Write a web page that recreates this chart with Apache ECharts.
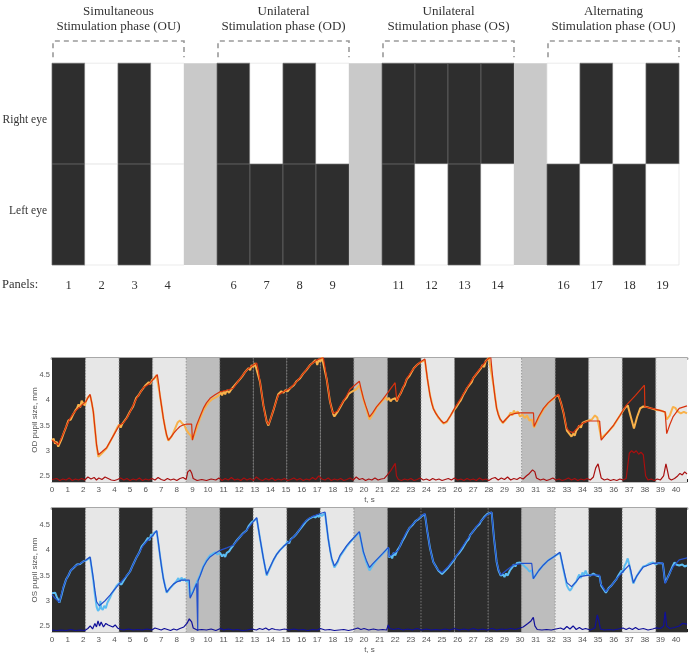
<!DOCTYPE html>
<html><head><meta charset="utf-8">
<script src="https://cdn.jsdelivr.net/npm/echarts@6/dist/echarts.min.js"></script>
<style>html,body{margin:0;padding:0;background:#fff}#c{width:697px;height:661px}</style>
</head><body><div id="c"></div>
<script>
// ---------- DATA ----------
const panelLabels = ['1','2','3','4','','6','7','8','9','','11','12','13','14','','16','17','18','19'];
const rightEye = ['D','W','D','W','G','D','W','D','W','G','D','D','D','D','G','W','D','W','D'];
const leftEye  = ['D','W','D','W','G','D','D','D','D','G','D','W','D','W','G','D','W','D','W'];
const phaseTitles = ['Simultaneous\nStimulation phase (OU)','Unilateral\nStimulation phase (OD)','Unilateral\nStimulation phase (OS)','Alternating\nStimulation phase (OU)'];
const phaseStart = [0,5,10,15];
const phaseEnd = [3,8,13,18];
const rowNames = ['Left eye','Right eye'];

const panelDur = 2.15;
const odBands = ['D','L','D','L','G','D','D','D','D','G','D','L','D','L','G','D','L','D','L'];
const osBands = ['D','L','D','L','G','D','L','D','L','G','D','D','D','D','G','L','D','L','D'];
const yTicks = [2.5,3,3.5,4,4.5];

const odModel = [[0,3.21],[0.2,3.17],[0.4,3.12],[0.7,3.32],[0.95,3.51],[1.15,3.64],[1.37,3.74],[1.6,3.82],[1.8,3.87],[2.0,3.93],[2.18,3.98],[2.3,4.05],[2.44,4.12],[2.55,3.95],[2.65,3.77],[2.75,3.45],[2.86,3.11],[2.97,2.92],[3.2,2.98],[3.5,3.06],[3.9,3.28],[4.32,3.51],[4.57,3.55],[4.8,3.65],[5.0,3.77],[5.2,3.9],[5.43,4.04],[5.65,4.15],[5.85,4.25],[6.05,4.29],[6.28,4.34],[6.5,4.42],[6.75,4.51],[6.85,4.3],[6.92,4.1],[7.03,3.87],[7.14,3.64],[7.25,3.45],[7.35,3.31],[7.46,3.21],[7.6,3.26],[7.78,3.34],[8.0,3.42],[8.2,3.48],[8.4,3.51],[8.63,3.53],[8.95,3.53],[9.0,3.21],[9.1,3.33],[9.27,3.51],[9.5,3.69],[9.7,3.84],[9.9,3.95],[10.13,4.04],[10.45,4.11],[10.77,4.17],[11.2,4.2],[11.62,4.24],[12.05,4.43],[12.48,4.6],[12.8,4.68],[13.12,4.74],[13.22,4.6],[13.33,4.37],[13.45,4.12],[13.55,3.9],[13.66,3.7],[13.76,3.58],[13.87,3.52],[14.0,3.62],[14.19,3.81],[14.35,3.96],[14.5,4.1],[14.83,4.17],[15.26,4.24],[15.68,4.37],[16.1,4.53],[16.54,4.7],[16.97,4.8],[17.39,4.85],[17.5,4.65],[17.6,4.43],[17.72,4.2],[17.82,3.97],[17.93,3.82],[18.03,3.74],[18.1,3.71],[18.3,3.79],[18.5,3.9],[18.9,4.1],[19.1,4.22],[19.4,4.3],[19.7,4.38],[19.83,4.2],[19.96,4.04],[20.1,3.9],[20.2,3.81],[20.35,3.67],[20.55,3.75],[20.8,3.87],[21.2,4.02],[21.56,4.17],[21.8,4.27],[21.99,4.35],[22.05,4.15],[22.1,4.0],[22.2,4.04],[22.45,4.22],[22.74,4.43],[23.05,4.58],[23.38,4.7],[23.65,4.77],[23.9,4.82],[23.98,4.62],[24.06,4.43],[24.15,4.25],[24.23,4.1],[24.33,3.95],[24.44,3.84],[24.6,3.74],[24.76,3.67],[24.93,3.6],[25.1,3.55],[25.3,3.58],[25.55,3.7],[25.8,3.84],[26.2,4.04],[26.58,4.24],[26.9,4.4],[27.2,4.53],[27.55,4.68],[27.86,4.8],[28.12,4.86],[28.2,4.6],[28.3,4.3],[28.4,4.05],[28.5,3.84],[28.6,3.72],[28.72,3.63],[28.9,3.56],[29.1,3.63],[29.36,3.71],[29.7,3.74],[30.0,3.75],[30.86,3.75],[30.9,3.48],[31.2,3.68],[31.5,3.84],[31.8,3.95],[32.14,4.04],[32.46,4.12],[32.62,3.95],[32.78,3.77],[32.9,3.58],[33.0,3.44],[33.2,3.38],[33.4,3.36],[33.6,3.43],[33.85,3.51],[34.1,3.56],[34.38,3.59],[35.1,3.59],[35.2,3.21],[35.6,3.36],[36.0,3.51],[36.4,3.7],[36.8,3.9],[37.4,4.1],[37.97,4.3],[38.0,3.87],[38.6,3.83],[39.3,3.77],[39.4,3.34],[39.6,3.52],[39.8,3.67],[40.2,3.84],[40.7,3.89]];

const odMeasured = [[0,3.2],[0.1,3.24],[0.2,3.14],[0.3,3.18],[0.4,3.08],[0.5,3.15],[0.6,3.22],[0.75,3.35],[0.9,3.47],[1.05,3.6],[1.2,3.62],[1.35,3.72],[1.5,3.8],[1.6,3.84],[1.7,3.92],[1.8,3.86],[1.9,3.99],[2.0,3.94],[2.1,3.9],[2.2,4.0],[2.3,4.06],[2.44,4.1],[2.55,3.95],[2.65,3.77],[2.75,3.45],[2.86,3.1],[2.97,2.88],[3.2,2.95],[3.5,3.05],[3.9,3.28],[4.2,3.47],[4.3,3.52],[4.4,3.46],[4.5,3.53],[4.6,3.54],[4.8,3.66],[5.0,3.78],[5.2,3.88],[5.4,4.05],[5.55,4.1],[5.7,4.18],[5.85,4.24],[6.0,4.3],[6.1,4.27],[6.2,4.36],[6.3,4.32],[6.4,4.4],[6.55,4.43],[6.7,4.5],[6.75,4.5],[6.92,4.1],[7.14,3.64],[7.35,3.3],[7.46,3.2],[7.7,3.3],[7.9,3.45],[8.05,3.56],[8.2,3.6],[8.35,3.54],[8.5,3.5],[8.6,3.42],[8.75,3.35],[8.9,3.3],[9.0,3.22],[9.1,3.3],[9.3,3.48],[9.5,3.65],[9.7,3.8],[9.9,3.9],[10.1,3.98],[10.3,4.03],[10.5,4.06],[10.7,4.1],[10.8,4.16],[10.9,4.1],[11.0,4.18],[11.1,4.12],[11.2,4.2],[11.35,4.15],[11.5,4.22],[11.62,4.25],[11.8,4.33],[12.05,4.42],[12.2,4.48],[12.35,4.55],[12.48,4.6],[12.6,4.64],[12.7,4.6],[12.8,4.7],[12.9,4.66],[13.0,4.74],[13.12,4.75],[13.33,4.37],[13.55,3.9],[13.76,3.58],[13.87,3.5],[14.19,3.8],[14.4,4.02],[14.5,4.12],[14.6,4.1],[14.7,4.18],[14.83,4.15],[14.95,4.2],[15.1,4.18],[15.26,4.24],[15.5,4.3],[15.68,4.38],[15.9,4.44],[16.1,4.53],[16.3,4.6],[16.54,4.7],[16.7,4.74],[16.8,4.72],[16.9,4.8],[17.0,4.7],[17.1,4.82],[17.2,4.76],[17.3,4.86],[17.39,4.84],[17.6,4.43],[17.82,3.97],[18.03,3.72],[18.1,3.68],[18.3,3.77],[18.5,3.88],[18.7,3.99],[18.9,4.06],[19.0,4.12],[19.1,4.1],[19.2,4.17],[19.3,4.14],[19.5,4.22],[19.7,4.3],[19.83,4.18],[19.96,4.02],[20.2,3.78],[20.35,3.62],[20.55,3.72],[20.8,3.86],[21.2,4.0],[21.4,4.06],[21.5,4.0],[21.6,4.05],[21.7,3.98],[21.8,4.02],[21.9,3.99],[22.0,4.04],[22.1,3.98],[22.2,4.06],[22.35,4.14],[22.5,4.25],[22.6,4.3],[22.74,4.42],[22.9,4.48],[23.05,4.56],[23.2,4.64],[23.3,4.62],[23.38,4.7],[23.5,4.72],[23.65,4.76],[23.9,4.8],[24.06,4.43],[24.23,4.1],[24.44,3.84],[24.76,3.66],[25.1,3.54],[25.3,3.57],[25.55,3.7],[25.7,3.78],[25.8,3.8],[25.9,3.86],[26.0,3.84],[26.1,3.96],[26.2,4.0],[26.35,4.1],[26.5,4.18],[26.6,4.24],[26.75,4.3],[26.9,4.36],[27.0,4.44],[27.1,4.48],[27.2,4.52],[27.3,4.56],[27.4,4.6],[27.5,4.64],[27.6,4.7],[27.7,4.66],[27.8,4.78],[27.9,4.76],[28.0,4.84],[28.12,4.86],[28.3,4.3],[28.5,3.84],[28.72,3.62],[28.9,3.55],[29.1,3.62],[29.3,3.7],[29.4,3.76],[29.5,3.7],[29.6,3.8],[29.7,3.74],[29.85,3.78],[30.0,3.68],[30.15,3.72],[30.3,3.65],[30.45,3.7],[30.6,3.6],[30.75,3.62],[30.9,3.46],[31.2,3.66],[31.5,3.82],[31.8,3.94],[32.0,4.0],[32.14,4.03],[32.3,4.08],[32.46,4.1],[32.62,3.95],[32.78,3.76],[33.0,3.4],[33.2,3.32],[33.3,3.28],[33.4,3.34],[33.5,3.3],[33.6,3.4],[33.7,3.44],[33.8,3.5],[33.9,3.46],[34.0,3.55],[34.1,3.52],[34.2,3.58],[34.38,3.6],[34.6,3.62],[34.8,3.7],[34.95,3.66],[35.05,3.5],[35.2,3.25],[35.6,3.36],[36.0,3.5],[36.4,3.7],[36.7,3.84],[36.9,3.9],[37.1,3.67],[37.3,3.44],[37.5,3.67],[37.7,3.84],[37.9,3.88],[38.1,3.87],[38.4,3.84],[38.75,3.81],[39.0,3.8],[39.3,3.76],[39.4,3.62],[39.6,3.7],[39.8,3.87],[39.95,3.85],[40.1,3.78],[40.3,3.74],[40.5,3.77],[40.7,3.74]];

const odNoise = [[0,2.43],[0.3,2.45],[0.5,2.41],[0.7,2.44],[0.9,2.42],[1.1,2.46],[1.3,2.41],[1.5,2.44],[1.7,2.42],[1.9,2.45],[2.1,2.42],[2.3,2.48],[2.5,2.44],[2.7,2.47],[2.85,2.42],[3.0,2.46],[3.2,2.43],[3.4,2.48],[3.6,2.45],[3.8,2.42],[4.0,2.41],[4.2,2.43],[4.4,2.46],[4.6,2.42],[4.8,2.45],[5.0,2.41],[5.2,2.44],[5.4,2.42],[5.6,2.46],[5.8,2.41],[6.0,2.44],[6.2,2.42],[6.4,2.45],[6.6,2.42],[6.8,2.47],[7.0,2.43],[7.2,2.41],[7.4,2.45],[7.6,2.42],[7.8,2.44],[8.0,2.41],[8.2,2.45],[8.4,2.47],[8.6,2.43],[8.7,2.58],[8.85,2.62],[8.95,2.56],[9.05,2.45],[9.3,2.41],[9.6,2.43],[9.9,2.41],[10.2,2.44],[10.5,2.42],[10.7,2.46],[10.9,2.41],[11.1,2.45],[11.3,2.42],[11.5,2.47],[11.7,2.42],[11.9,2.44],[12.1,2.41],[12.3,2.46],[12.5,2.42],[12.7,2.45],[12.9,2.41],[13.1,2.48],[13.3,2.43],[13.5,2.41],[13.7,2.45],[13.9,2.42],[14.1,2.46],[14.3,2.41],[14.5,2.44],[14.7,2.42],[14.9,2.45],[15.1,2.41],[15.3,2.43],[15.5,2.46],[15.7,2.42],[15.9,2.45],[16.1,2.41],[16.3,2.44],[16.5,2.42],[16.7,2.47],[16.9,2.43],[17.1,2.5],[17.3,2.44],[17.5,2.42],[17.7,2.46],[17.9,2.41],[18.1,2.44],[18.3,2.42],[18.5,2.45],[18.7,2.41],[18.9,2.43],[19.1,2.46],[19.3,2.42],[19.5,2.48],[19.7,2.43],[19.9,2.45],[20.1,2.41],[20.3,2.44],[20.5,2.42],[20.7,2.46],[20.9,2.42],[21.1,2.44],[21.3,2.45],[21.5,2.52],[21.7,2.6],[21.9,2.7],[22.0,2.75],[22.08,2.5],[22.2,2.43],[22.4,2.41],[22.6,2.44],[22.8,2.42],[23.0,2.45],[23.2,2.41],[23.4,2.43],[23.6,2.46],[23.8,2.42],[24.0,2.44],[24.2,2.41],[24.4,2.45],[24.6,2.42],[24.8,2.44],[25.0,2.41],[25.2,2.43],[25.4,2.45],[25.6,2.42],[25.8,2.46],[26.0,2.42],[26.2,2.44],[26.4,2.41],[26.6,2.45],[26.8,2.42],[27.0,2.44],[27.2,2.41],[27.4,2.46],[27.6,2.42],[27.8,2.44],[28.0,2.41],[28.2,2.45],[28.4,2.47],[28.6,2.42],[28.8,2.46],[29.0,2.43],[29.2,2.48],[29.4,2.42],[29.6,2.45],[29.8,2.43],[30.0,2.47],[30.2,2.44],[30.4,2.5],[30.6,2.55],[30.8,2.62],[30.95,2.58],[31.05,2.46],[31.3,2.42],[31.5,2.44],[31.7,2.41],[31.9,2.43],[32.1,2.46],[32.3,2.42],[32.5,2.44],[32.7,2.41],[32.9,2.43],[33.1,2.46],[33.3,2.42],[33.5,2.45],[33.7,2.41],[33.9,2.44],[34.1,2.42],[34.3,2.45],[34.5,2.42],[34.7,2.48],[34.85,2.66],[35.0,2.74],[35.1,2.72],[35.2,2.46],[35.4,2.42],[35.6,2.44],[35.8,2.41],[36.0,2.43],[36.2,2.41],[36.4,2.44],[36.6,2.42],[36.8,2.45],[36.9,2.7],[37.0,2.95],[37.15,3.0],[37.3,2.96],[37.45,3.0],[37.6,2.93],[37.75,2.97],[37.9,2.92],[38.0,2.9],[38.05,2.5],[38.2,2.42],[38.4,2.44],[38.6,2.41],[38.8,2.44],[39.0,2.42],[39.2,2.5],[39.35,2.74],[39.45,2.6],[39.55,2.45],[39.7,2.42],[39.9,2.45],[40.1,2.5],[40.25,2.55],[40.4,2.52],[40.55,2.58],[40.7,2.54]];

const osModel = [[0,3.12],[0.2,3.05],[0.47,2.97],[0.6,3.12],[0.73,3.28],[0.9,3.41],[1.05,3.51],[1.2,3.6],[1.37,3.66],[1.6,3.71],[1.8,3.74],[2.0,3.78],[2.18,3.81],[2.44,3.87],[2.55,3.65],[2.65,3.44],[2.75,3.2],[2.86,2.98],[3.03,2.9],[3.4,3.0],[3.72,3.11],[4.0,3.22],[4.32,3.34],[4.7,3.47],[5.0,3.58],[5.2,3.72],[5.43,3.87],[5.65,3.99],[5.85,4.1],[6.05,4.17],[6.28,4.24],[6.5,4.31],[6.71,4.39],[6.82,4.15],[6.92,3.9],[7.03,3.65],[7.14,3.44],[7.25,3.28],[7.35,3.17],[7.55,3.25],[7.78,3.33],[8.05,3.38],[8.3,3.41],[8.8,3.41],[8.85,3.05],[9.05,3.18],[9.27,3.34],[9.33,3.37],[9.34,2.4],[9.36,3.39],[9.5,3.5],[9.7,3.67],[9.9,3.78],[10.13,3.87],[10.45,3.94],[10.77,4.0],[11.2,4.05],[11.62,4.1],[12.05,4.27],[12.48,4.4],[12.8,4.53],[13.12,4.65],[13.22,4.45],[13.33,4.24],[13.45,4.02],[13.55,3.84],[13.66,3.66],[13.76,3.52],[13.95,3.65],[14.19,3.81],[14.4,3.92],[14.6,4.0],[14.85,4.08],[15.08,4.14],[15.4,4.24],[15.68,4.33],[16.1,4.53],[16.4,4.62],[16.75,4.68],[17.1,4.72],[17.5,4.76],[17.6,4.5],[17.7,4.24],[17.82,4.0],[17.93,3.84],[18.1,3.69],[18.3,3.78],[18.46,3.9],[18.9,4.1],[19.1,4.17],[19.4,4.27],[19.7,4.37],[19.83,4.17],[19.96,3.97],[20.15,3.8],[20.35,3.66],[20.55,3.73],[20.8,3.81],[21.2,3.94],[21.56,4.06],[21.6,3.87],[21.9,3.94],[22.2,4.0],[22.45,4.2],[22.74,4.37],[23.05,4.5],[23.38,4.6],[23.65,4.67],[23.9,4.73],[23.98,4.55],[24.06,4.37],[24.15,4.2],[24.23,4.04],[24.33,3.9],[24.44,3.77],[24.6,3.68],[24.76,3.61],[25.0,3.56],[25.4,3.68],[25.8,3.84],[26.2,4.02],[26.58,4.2],[26.9,4.34],[27.2,4.47],[27.55,4.6],[27.86,4.7],[28.18,4.76],[28.25,4.5],[28.33,4.24],[28.42,4.0],[28.5,3.77],[28.62,3.62],[28.76,3.51],[29.15,3.61],[29.57,3.71],[30.17,3.74],[30.75,3.74],[30.85,3.44],[31.2,3.6],[31.5,3.71],[31.8,3.8],[32.14,3.87],[32.56,3.96],[32.67,3.8],[32.78,3.64],[32.9,3.48],[33.0,3.36],[33.3,3.28],[33.6,3.38],[33.85,3.48],[34.2,3.5],[34.5,3.51],[35.1,3.51],[35.15,3.35],[35.5,3.18],[35.85,3.3],[36.2,3.44],[36.6,3.58],[37.0,3.71],[37.1,3.6],[37.26,3.36],[37.5,3.5],[37.9,3.67],[38.5,3.74],[39.15,3.75],[39.2,3.6],[39.3,3.34],[39.55,3.52],[39.8,3.67],[40.2,3.81],[40.7,3.85]];

const osMeasured = [[0,3.15],[0.1,3.12],[0.2,3.16],[0.3,3.08],[0.4,3.02],[0.47,2.96],[0.6,3.1],[0.73,3.26],[0.9,3.42],[1.05,3.5],[1.2,3.6],[1.37,3.65],[1.6,3.72],[1.8,3.73],[2.0,3.78],[2.18,3.8],[2.44,3.86],[2.55,3.62],[2.65,3.4],[2.75,3.12],[2.86,2.88],[2.95,2.8],[3.05,2.84],[3.1,3.0],[3.15,2.86],[3.25,2.82],[3.35,2.9],[3.45,2.85],[3.55,2.96],[3.7,3.05],[3.85,3.15],[4.0,3.22],[4.15,3.3],[4.3,3.35],[4.45,3.32],[4.6,3.4],[4.8,3.5],[5.0,3.58],[5.2,3.72],[5.43,3.87],[5.6,3.96],[5.75,4.08],[5.85,4.05],[5.95,4.15],[6.05,4.12],[6.15,4.25],[6.25,4.2],[6.35,4.32],[6.45,4.28],[6.55,4.35],[6.71,4.38],[6.92,3.9],[7.14,3.44],[7.35,3.16],[7.55,3.24],[7.78,3.32],[8.0,3.4],[8.1,3.45],[8.2,3.38],[8.3,3.46],[8.4,3.4],[8.5,3.44],[8.6,3.38],[8.75,3.4],[8.85,3.08],[9.05,3.2],[9.27,3.36],[9.5,3.52],[9.7,3.68],[9.9,3.8],[10.13,3.9],[10.3,3.93],[10.45,3.96],[10.6,3.92],[10.77,3.95],[10.9,3.88],[11.0,3.92],[11.1,3.87],[11.2,3.95],[11.35,3.98],[11.5,4.05],[11.62,4.1],[11.8,4.18],[12.05,4.27],[12.25,4.34],[12.48,4.4],[12.6,4.48],[12.7,4.52],[12.8,4.56],[12.9,4.55],[13.0,4.6],[13.12,4.64],[13.33,4.24],[13.55,3.84],[13.76,3.5],[13.95,3.64],[14.19,3.8],[14.4,3.92],[14.6,4.0],[14.85,4.08],[15.0,4.12],[15.1,4.18],[15.2,4.14],[15.3,4.22],[15.4,4.2],[15.5,4.27],[15.6,4.24],[15.68,4.33],[15.8,4.3],[15.9,4.42],[16.1,4.5],[16.3,4.58],[16.5,4.63],[16.75,4.67],[16.9,4.65],[17.0,4.7],[17.1,4.66],[17.2,4.72],[17.3,4.68],[17.5,4.74],[17.7,4.24],[17.93,3.82],[18.1,3.66],[18.3,3.76],[18.46,3.88],[18.9,4.08],[19.1,4.16],[19.4,4.26],[19.7,4.36],[19.96,3.95],[20.15,3.76],[20.35,3.6],[20.55,3.7],[20.8,3.8],[21.2,3.93],[21.56,4.05],[21.6,3.86],[21.7,3.9],[21.8,3.84],[21.9,3.95],[22.0,3.9],[22.1,3.98],[22.2,3.96],[22.3,4.08],[22.45,4.18],[22.6,4.26],[22.74,4.35],[22.9,4.44],[23.0,4.42],[23.1,4.5],[23.2,4.48],[23.3,4.58],[23.4,4.55],[23.5,4.62],[23.6,4.6],[23.7,4.68],[23.8,4.66],[23.9,4.72],[24.06,4.37],[24.23,4.04],[24.44,3.77],[24.76,3.6],[25.0,3.53],[25.4,3.66],[25.8,3.82],[25.9,3.88],[26.0,3.85],[26.1,3.95],[26.2,3.96],[26.35,4.06],[26.58,4.18],[26.7,4.22],[26.8,4.3],[26.9,4.32],[27.0,4.38],[27.2,4.46],[27.4,4.52],[27.5,4.58],[27.6,4.56],[27.7,4.66],[27.8,4.64],[27.9,4.72],[28.0,4.7],[28.18,4.75],[28.33,4.24],[28.5,3.77],[28.62,3.6],[28.76,3.5],[28.9,3.52],[29.0,3.47],[29.1,3.54],[29.2,3.5],[29.35,3.6],[29.5,3.66],[29.6,3.72],[29.7,3.68],[29.8,3.75],[29.9,3.72],[30.0,3.76],[30.17,3.72],[30.3,3.68],[30.45,3.64],[30.6,3.58],[30.75,3.6],[30.85,3.44],[31.2,3.6],[31.5,3.71],[31.8,3.8],[32.14,3.87],[32.56,3.95],[32.78,3.62],[33.0,3.3],[33.1,3.24],[33.2,3.2],[33.3,3.24],[33.4,3.3],[33.6,3.38],[33.7,3.46],[33.8,3.52],[33.9,3.45],[34.0,3.56],[34.1,3.5],[34.2,3.6],[34.3,3.52],[34.5,3.5],[34.7,3.54],[34.9,3.5],[35.1,3.48],[35.2,3.3],[35.5,3.16],[35.7,3.26],[35.85,3.3],[36.0,3.36],[36.2,3.44],[36.3,3.5],[36.4,3.48],[36.5,3.6],[36.6,3.56],[36.7,3.7],[36.8,3.75],[36.9,3.84],[37.0,3.72],[37.1,3.55],[37.26,3.34],[37.4,3.44],[37.5,3.5],[37.7,3.6],[37.9,3.68],[38.1,3.7],[38.3,3.74],[38.5,3.76],[38.7,3.72],[38.9,3.75],[39.15,3.74],[39.3,3.36],[39.55,3.52],[39.8,3.7],[39.9,3.76],[40.0,3.72],[40.2,3.7],[40.4,3.72],[40.55,3.68],[40.7,3.7]];

const osNoise = [[0,2.42],[0.3,2.41],[0.6,2.42],[0.9,2.41],[1.2,2.43],[1.5,2.41],[1.8,2.42],[2.1,2.41],[2.3,2.45],[2.45,2.5],[2.6,2.44],[2.75,2.55],[2.85,2.48],[2.95,2.6],[3.05,2.5],[3.15,2.58],[3.3,2.48],[3.45,2.55],[3.6,2.52],[3.75,2.5],[3.9,2.48],[4.05,2.52],[4.2,2.46],[4.4,2.43],[4.6,2.42],[4.9,2.44],[5.2,2.42],[5.5,2.43],[5.8,2.42],[6.1,2.44],[6.4,2.42],[6.6,2.46],[6.8,2.44],[7.0,2.42],[7.2,2.45],[7.4,2.43],[7.6,2.41],[7.8,2.44],[8.0,2.42],[8.2,2.45],[8.45,2.48],[8.65,2.55],[8.8,2.64],[8.95,2.58],[9.05,2.46],[9.3,2.42],[9.6,2.43],[9.9,2.42],[10.2,2.44],[10.5,2.41],[10.8,2.45],[11.0,2.42],[11.3,2.44],[11.6,2.42],[11.9,2.43],[12.2,2.41],[12.5,2.42],[12.8,2.44],[13.1,2.42],[13.3,2.45],[13.5,2.43],[13.7,2.46],[13.9,2.42],[14.1,2.45],[14.3,2.43],[14.6,2.42],[14.9,2.44],[15.2,2.42],[15.5,2.44],[15.8,2.42],[16.1,2.43],[16.4,2.41],[16.7,2.43],[17.0,2.42],[17.2,2.45],[17.5,2.42],[17.8,2.43],[18.1,2.41],[18.4,2.42],[18.7,2.43],[19.0,2.41],[19.3,2.43],[19.6,2.46],[19.8,2.43],[20.0,2.45],[20.3,2.42],[20.6,2.44],[20.9,2.42],[21.2,2.43],[21.45,2.42],[21.55,2.52],[21.65,2.45],[21.9,2.43],[22.2,2.45],[22.5,2.42],[22.8,2.44],[23.1,2.42],[23.4,2.45],[23.7,2.42],[24.0,2.44],[24.3,2.42],[24.6,2.43],[24.9,2.42],[25.2,2.44],[25.5,2.42],[25.8,2.45],[26.1,2.42],[26.4,2.44],[26.7,2.42],[27.0,2.45],[27.3,2.42],[27.6,2.44],[27.9,2.42],[28.2,2.45],[28.5,2.42],[28.8,2.44],[29.1,2.43],[29.4,2.45],[29.7,2.43],[30.0,2.46],[30.2,2.48],[30.5,2.55],[30.7,2.6],[30.85,2.67],[30.95,2.5],[31.1,2.43],[31.4,2.42],[31.7,2.43],[32.0,2.42],[32.3,2.44],[32.6,2.46],[32.8,2.43],[33.0,2.49],[33.2,2.44],[33.4,2.5],[33.6,2.43],[33.8,2.47],[34.0,2.43],[34.2,2.45],[34.5,2.42],[34.8,2.46],[34.95,2.72],[35.05,2.6],[35.15,2.44],[35.4,2.42],[35.7,2.43],[36.0,2.42],[36.3,2.44],[36.6,2.46],[36.8,2.43],[37.0,2.46],[37.2,2.43],[37.4,2.47],[37.6,2.43],[37.9,2.45],[38.2,2.42],[38.5,2.44],[38.7,2.46],[39.0,2.45],[39.2,2.5],[39.3,2.78],[39.4,2.5],[39.6,2.45],[39.9,2.47],[40.2,2.5],[40.4,2.55],[40.6,2.54],[40.7,2.53]];

// ---------- STYLE ----------
const SERIF = '"Liberation Serif", "DejaVu Serif", serif';
const SANS = '"Liberation Sans", Arial, sans-serif';
const cellFill = {D:'#2e2e2e', W:'#ffffff', G:'#c9c9c9'};
const cellStroke = {D:'#686868', W:'#e2e2e2', G:null};
const bandFill = {D:'#2c2c2c', L:'#e7e7e7', G:'#bdbdbd'};
const bracketTop = 2.22, bracketLow = 2.06;
const rowLabelPos = [0.54, 1.44];
const tMax = 40.7, yMin = 2.38, yMax = 4.84;

const cellItems = [];
rightEye.forEach((c,i)=>cellItems.push({col:i,row:1,code:c}));
leftEye.forEach((c,i)=>cellItems.push({col:i,row:0,code:c}));

const chart = echarts.init(document.getElementById('c'));

function renderCell(params, api){
  const d = cellItems[params.dataIndex];
  const top = api.coord([d.col, d.row+1]);
  const bot = api.coord([d.col, d.row]);
  const w = api.size([1,0])[0];
  return {type:'rect', shape:{x:top[0]-w/2, y:top[1], width:w, height:bot[1]-top[1]},
    style:{fill:cellFill[d.code], stroke:cellStroke[d.code], lineWidth:0.7}};
}
function renderBracket(params, api){
  const i = params.dataIndex;
  const w = api.size([1,0])[0];
  const a = api.coord([phaseStart[i], bracketTop]);
  const b = api.coord([phaseEnd[i], bracketLow]);
  const x0 = a[0]-w/2+1, x1 = b[0]+w/2;
  return {type:'group', children:[
    {type:'polyline', shape:{points:[[x0,b[1]],[x0,a[1]],[x1,a[1]],[x1,b[1]]]},
      style:{stroke:'#9a9a9a', lineWidth:1.6, lineDash:[5,4], fill:null}},
    {type:'text', style:{text:phaseTitles[i], x:(x0+x1)/2, y:a[1]-7, align:'center', verticalAlign:'bottom',
      fontFamily:SERIF, fontSize:13, lineHeight:15, fill:'#333'}}
  ]};
}
function makeBandRender(bands){
  return function(params, api){
    const i = params.dataIndex;
    const cs = params.coordSys;
    const s = api.coord([api.value(0), yMin])[0];
    const e = api.coord([api.value(1), yMin])[0];
    const rect = echarts.graphic.clipRectByRect({x:s, y:cs.y, width:e-s, height:cs.height},
      {x:cs.x, y:cs.y, width:cs.width, height:cs.height});
    const ch = [];
    if (rect) ch.push({type:'rect', shape:rect, style:{fill:bandFill[bands[i]]}});
    if (i>0) ch.push({type:'line', shape:{x1:s, y1:cs.y, x2:s, y2:cs.y+cs.height},
      style:{stroke:'#8a8a8a', lineWidth:0.8, lineDash:[1.5,1.5]}});
    return {type:'group', children:ch};
  };
}
const bandData = b => b.map((_,i)=>[i*panelDur, (i+1)*panelDur]);

const intLabel = v => (Math.abs(v-Math.round(v))<1e-6 ? String(Math.round(v)) : '');

function bottomX(grid, name){
  return {type:'value', gridIndex:grid, min:0, max:tMax, interval:1,
    name:name, nameLocation:'middle', nameGap:14, nameMoveOverlap:false,
    nameTextStyle:{fontFamily:SANS, fontSize:8, color:'#555'},
    axisLine:{show:true, lineStyle:{color:'#bbb', width:1}},
    axisTick:{show:true, inside:true, length:3, lineStyle:{color:'#222'}},
    axisLabel:{fontFamily:SANS, fontSize:8, color:'#555', margin:4, formatter:intLabel},
    splitLine:{show:false}};
}
function topEdgeX(grid){
  return {type:'value', gridIndex:grid, position:'top', min:0, max:tMax,
    axisLine:{show:true, lineStyle:{color:'#a8a8a8', width:3}},
    axisTick:{show:false}, axisLabel:{show:false}, splitLine:{show:false}};
}
function pupilY(grid, name){
  return {type:'value', gridIndex:grid, min:yMin, max:yMax,
    name:name, nameLocation:'middle', nameGap:13, nameRotate:90, nameMoveOverlap:false,
    nameTextStyle:{fontFamily:SANS, fontSize:8, color:'#555'},
    axisLine:{show:false}, axisTick:{show:false, customValues:yTicks},
    axisLabel:{fontFamily:SANS, fontSize:7.5, color:'#555', margin:2, customValues:yTicks},
    splitLine:{show:false}};
}
function lineS(x, y, data, color, width, z){
  return {type:'line', xAxisIndex:x, yAxisIndex:y, data:data, showSymbol:false, symbol:'none',
    lineStyle:{color:color, width:width}, z:z, animation:false, clip:true, silent:true};
}

chart.setOption({
  animation:false,
  title:{text:'Panels:', left:2, top:278, padding:0,
    textStyle:{fontFamily:SERIF, fontSize:12.5, fontWeight:'normal', color:'#333'}},
  grid:[
    {left:52, right:18, top:38, bottom:396, outerBoundsMode:'none', containLabel:false},
    {left:52, right:10, top:358, height:124, outerBoundsMode:'none', containLabel:false},
    {left:52, right:10, top:508, height:124, outerBoundsMode:'none', containLabel:false}
  ],
  xAxis:[
    {type:'category', gridIndex:0, data:panelLabels, boundaryGap:true,
      axisLine:{show:false}, axisTick:{show:false}, splitLine:{show:false},
      axisLabel:{fontFamily:SERIF, fontSize:12.5, color:'#333', margin:14, interval:0}},
    bottomX(1,'t, s'), topEdgeX(1),
    bottomX(2,'t, s'), topEdgeX(2)
  ],
  yAxis:[
    {type:'value', gridIndex:0, min:0, max:2.25,
      axisLine:{show:false}, axisTick:{show:false}, splitLine:{show:false},
      axisLabel:{fontFamily:SERIF, fontSize:11.5, color:'#333', margin:5,
        customValues:rowLabelPos, formatter:v=>(v>1 ? rowNames[1] : rowNames[0])}},
    pupilY(1,'OD pupil size, mm'),
    pupilY(2,'OS pupil size, mm')
  ],
  series:[
    {type:'custom', xAxisIndex:0, yAxisIndex:0, data:cellItems.map(d=>[d.col,d.row]),
      renderItem:renderCell, silent:true, z:1},
    {type:'custom', xAxisIndex:0, yAxisIndex:0, data:phaseTitles.map((t,i)=>[phaseStart[i], bracketTop]),
      renderItem:renderBracket, silent:true, z:2},
    {type:'custom', xAxisIndex:1, yAxisIndex:1, data:bandData(odBands), encode:{x:[0,1]},
      renderItem:makeBandRender(odBands), silent:true, z:1},
    lineS(1,1,odMeasured,'#f8b14a',2,3),
    lineS(1,1,odModel,'#d8320e',1.2,4),
    lineS(1,1,odNoise,'#a80f0f',1.2,4),
    {type:'custom', xAxisIndex:3, yAxisIndex:2, data:bandData(osBands), encode:{x:[0,1]},
      renderItem:makeBandRender(osBands), silent:true, z:1},
    lineS(3,2,osMeasured,'#5cbdf2',2,3),
    lineS(3,2,osModel,'#2450cc',1.2,4),
    lineS(3,2,osNoise,'#10109a',1.2,4)
  ]
});
</script></body></html>
